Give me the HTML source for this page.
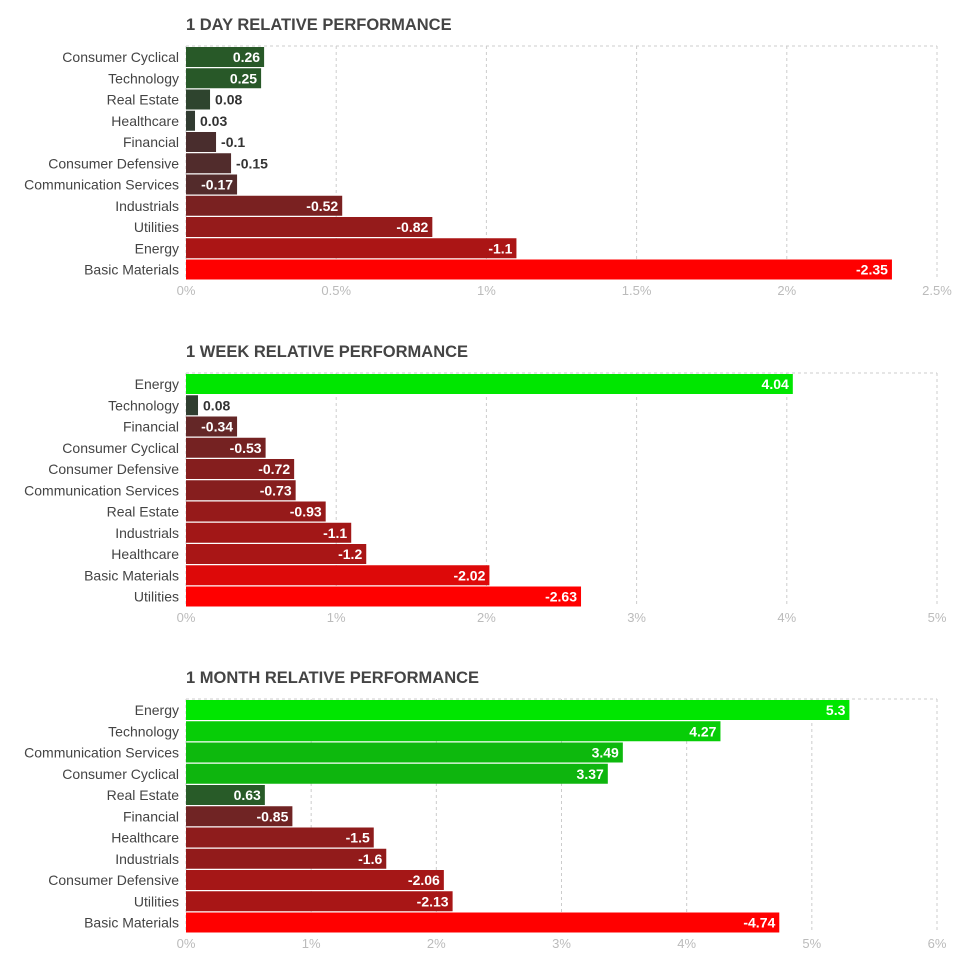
<!DOCTYPE html>
<html><head><meta charset="utf-8"><style>
body{margin:0;background:#fff;width:961px;height:967px;overflow:hidden;font-family:"Liberation Sans",sans-serif}
</style></head><body>
<svg id="s" width="961" height="967" xmlns="http://www.w3.org/2000/svg"></svg>
<script>
const dayCats=["Consumer Cyclical","Technology","Real Estate","Healthcare","Financial","Consumer Defensive","Communication Services","Industrials","Utilities","Energy","Basic Materials"];
const dayVals=[0.26,0.25,0.08,0.03,-0.1,-0.15,-0.17,-0.52,-0.82,-1.1,-2.35];
const dayTicks=["0%","0.5%","1%","1.5%","2%","2.5%"];
const weekCats=["Energy","Technology","Financial","Consumer Cyclical","Consumer Defensive","Communication Services","Real Estate","Industrials","Healthcare","Basic Materials","Utilities"];
const weekVals=[4.04,0.08,-0.34,-0.53,-0.72,-0.73,-0.93,-1.1,-1.2,-2.02,-2.63];
const weekTicks=["0%","1%","2%","3%","4%","5%"];
const monthCats=["Energy","Technology","Communication Services","Consumer Cyclical","Real Estate","Financial","Healthcare","Industrials","Consumer Defensive","Utilities","Basic Materials"];
const monthVals=[5.3,4.27,3.49,3.37,0.63,-0.85,-1.5,-1.6,-2.06,-2.13,-4.74];
const monthTicks=["0%","1%","2%","3%","4%","5%","6%"];
const svg=document.getElementById('s');
const NS="http://www.w3.org/2000/svg";
function mk(t,a){const e=document.createElementNS(NS,t);for(const k in a)e.setAttribute(k,a[k]);svg.appendChild(e);return e;}
function col(v,posMax,negMax){
  const d=v>=0?Math.max(posMax,2.35):Math.max(negMax,2.35);
  let t=Math.pow(Math.min(1,Math.abs(v)/d),0.7);
  if(v>=0){return `rgb(${Math.round(51-51*t)},${Math.round(51+179*t)},${Math.round(51-51*t)})`;}
  return `rgb(${Math.round(51+204*t)},${Math.round(51-51*t)},${Math.round(51-51*t)})`;
}
function chart(key,title,top,cats,vals,ticks,axMax){
  const x0=186,x1=937,pt=top+22,rowH=21.25,pb=pt+rowH*cats.length;
  const sx=v=>x0+Math.abs(v)/axMax*(x1-x0);
  let e=mk('text',{x:186,y:top+6,'font-size':'16.5','font-weight':'bold',fill:'#444',textLength:'0'});
  e.removeAttribute('textLength');
  
  
  e.textContent=title;
  e=mk('line',{x1:x0,y1:pt,x2:x1,y2:pt,stroke:'#ccc','stroke-dasharray':'3,3'});
  
  
  ticks.forEach((tk,i)=>{
    const x=x0+i/(ticks.length-1)*(x1-x0);
    const g=mk('line',{x1:x,y1:pt,x2:x,y2:pb,stroke:'#ccc','stroke-dasharray':'3,3'});
    
    
    const t=mk('text',{x:x,y:pb+15,'font-size':'13',fill:'#bbb','text-anchor':'middle'});
    
    
    t.textContent=tk;
  });
  const posMax=Math.max(0,...vals), negMax=Math.max(0,...vals.map(v=>-v));
  cats.forEach((c,i)=>{
    const y=pt+1+i*rowH, v=vals[i], w=sx(v)-x0;
    const l=mk('text',{x:179,y:y+15,'font-size':'14',fill:'#444','text-anchor':'end'});
    
    
    l.textContent=c;
    const r=mk('rect',{x:x0,y:y,width:Math.max(w,1),height:20,fill:col(v,posMax,negMax)});
    
    
    const inside=w>=50;
    const vt=mk('text',{x:inside?x0+w-4:x0+w+5,y:y+15,'font-size':'14','font-weight':'bold',fill:inside?'#fff':'#333','text-anchor':inside?'end':'start'});
    
    
    vt.textContent=String(v);
  });
}
chart('day','1 DAY RELATIVE PERFORMANCE',24,dayCats,dayVals,dayTicks,2.5);
chart('week','1 WEEK RELATIVE PERFORMANCE',351,weekCats,weekVals,weekTicks,5);
chart('month','1 MONTH RELATIVE PERFORMANCE',677,monthCats,monthVals,monthTicks,6);
</script>
</body></html>
